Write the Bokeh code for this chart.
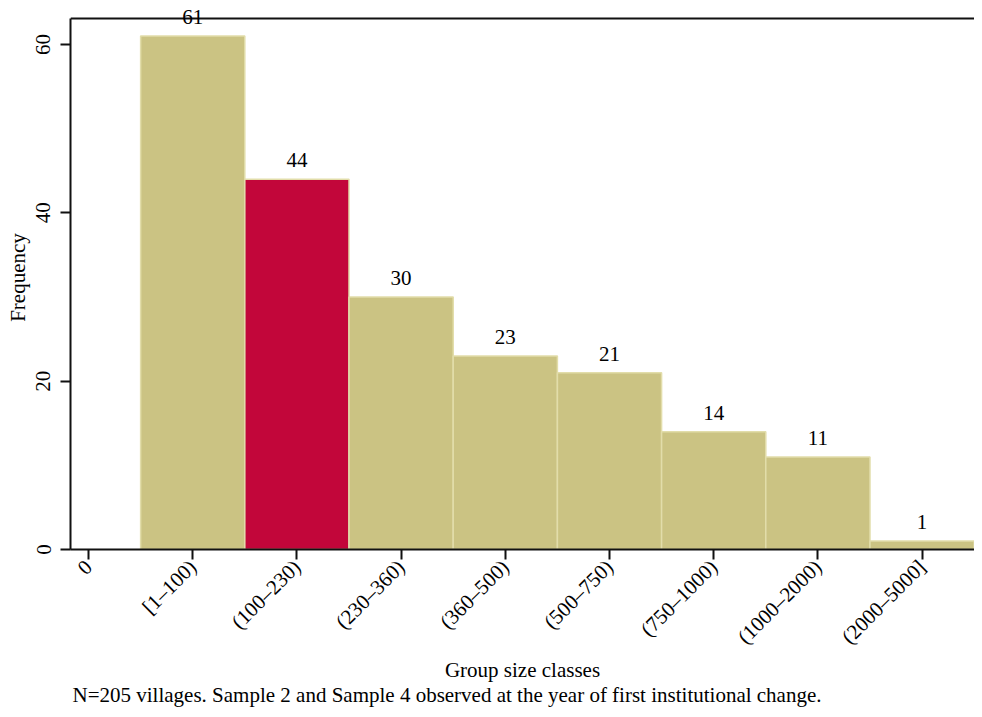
import math
from bokeh.plotting import figure
from bokeh.models import ColumnDataSource, FixedTicker, LabelSet, Range1d, Span, Title
from bokeh.embed import file_html
from bokeh.resources import INLINE

# ---- data ----
categories = ["0", "[1–100)", "(100–230)", "(230–360)", "(360–500)",
              "(500–750)", "(750–1000)", "(1000–2000)", "(2000–5000]"]
bar_classes = categories[1:]
counts = [61, 44, 30, 23, 21, 14, 11, 1]
highlight_class = "(100–230)"
y_ticks = [0, 20, 40, 60]
y_top = 63.1
x_title = "Group size classes"
y_title = "Frequency"
note = "N=205 villages. Sample 2 and Sample 4 observed at the year of first institutional change."

FONT = "Liberation Serif"
FS = "21px"
BASE = "#CBC383"
HIGH = "#C2063A"
EDGE = "#E2DDAA"
AX = "#111111"

positions = [categories.index(c) for c in bar_classes]
colors = [HIGH if c == highlight_class else BASE for c in bar_classes]
src = ColumnDataSource(dict(x=positions, top=counts, color=colors,
                            label=[str(v) for v in counts]))

p = figure(width=974, height=709, output_backend="svg", toolbar_location=None,
           x_range=Range1d(-0.173, 8.503), y_range=Range1d(0, 64.63),
           min_border_left=70, min_border_right=0, min_border_top=5,
           min_border_bottom=160, x_axis_location="below")
p.outline_line_color = None
p.grid.visible = False
p.background_fill_color = "white"
p.border_fill_color = "white"

p.vbar(x="x", top="top", bottom=0, width=1.0, source=src,
       fill_color="color", line_color=EDGE, line_width=1.5)

# top border line of the plot region
p.add_layout(Span(location=y_top, dimension="width", line_color=AX, line_width=2))

labels = LabelSet(x="x", y="top", text="label", source=src, y_offset=12,
                  text_align="center", text_baseline="alphabetic",
                  text_font=FONT, text_font_size=FS, text_color="black")
p.add_layout(labels)

# x axis
xa = p.xaxis[0]
xa.ticker = FixedTicker(ticks=list(range(len(categories))))
xa.major_label_overrides = {i: c for i, c in enumerate(categories)}
xa.major_label_orientation = math.pi / 4
xa.axis_label = x_title
# y axis
ya = p.yaxis[0]
ya.ticker = FixedTicker(ticks=y_ticks)
ya.major_label_orientation = "vertical"
ya.axis_label = y_title
ya.bounds = (0, y_top)

for ax in (xa, ya):
    ax.axis_line_color = AX
    ax.axis_line_width = 2
    ax.major_tick_line_color = AX
    ax.major_tick_line_width = 2
    ax.major_tick_in = 0
    ax.major_tick_out = 10
    ax.minor_tick_line_color = None
    ax.major_label_text_font = FONT
    ax.major_label_text_font_size = FS
    ax.major_label_text_color = "black"
    ax.axis_label_text_font = FONT
    ax.axis_label_text_font_size = FS
    ax.axis_label_text_font_style = "normal"
    ax.axis_label_text_color = "black"
ya.major_label_standoff = 10
ya.axis_label_standoff = 4
xa.major_label_standoff = 4
xa.axis_label_standoff = -2

# footnote below the axis title
p.add_layout(Title(text=note, align="left", text_font=FONT, text_font_size=FS,
                   text_font_style="normal", text_color="black", offset=2,
                   standoff=-9), "below")

open("out.html", "w").write(file_html(p, INLINE))
